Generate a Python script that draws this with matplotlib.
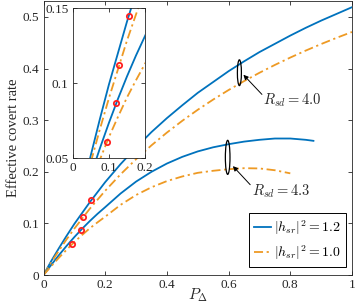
import matplotlib
matplotlib.use("Agg")
import matplotlib.pyplot as plt
from matplotlib.patches import Ellipse
from matplotlib.ticker import FormatStrFormatter

plt.rcParams['font.family'] = ['Liberation Serif', 'DejaVu Serif']
plt.rcParams['mathtext.fontset'] = 'cm'

# ---- data ----
x_main = [0, 0.025, 0.05, 0.075, 0.1, 0.15, 0.2, 0.25, 0.3, 0.35, 0.4, 0.45, 0.5,
          0.55, 0.6, 0.65, 0.7, 0.75, 0.8, 0.85, 0.9, 0.95, 1.0]
# R_sd = 4.0, |h_sr|^2 = 1.2
rsd40_h12 = [0, 0.027, 0.052, 0.076, 0.099, 0.141, 0.180, 0.215, 0.247, 0.277, 0.304,
             0.329, 0.353, 0.374, 0.395, 0.414, 0.432, 0.448, 0.464, 0.479, 0.493,
             0.506, 0.519]
# R_sd = 4.0, |h_sr|^2 = 1.0
rsd40_h10 = [0, 0.0243, 0.0473, 0.0692, 0.0899, 0.1284, 0.1633, 0.1952, 0.2244, 0.2513,
             0.2760, 0.2989, 0.3202, 0.3400, 0.3585, 0.3757, 0.3919, 0.4071, 0.4214,
             0.4349, 0.4476, 0.4596, 0.4710]

# R_sd = 4.3, |h_sr|^2 = 1.2
x_lb = [0, 0.025, 0.05, 0.075, 0.1, 0.125, 0.15, 0.175, 0.2, 0.25, 0.3, 0.35, 0.4,
        0.45, 0.5, 0.55, 0.6, 0.65, 0.7, 0.75, 0.8, 0.85, 0.875]
rsd43_h12 = [0, 0.0195, 0.0385, 0.0565, 0.0735, 0.0895, 0.1045, 0.1185, 0.1315, 0.158,
             0.181, 0.200, 0.216, 0.229, 0.2395, 0.2475, 0.2535, 0.2585, 0.262, 0.2645,
             0.2645, 0.262, 0.260]
# R_sd = 4.3, |h_sr|^2 = 1.0
x_lo = [0, 0.025, 0.05, 0.075, 0.1, 0.125, 0.15, 0.175, 0.2, 0.25, 0.3, 0.35, 0.4,
        0.45, 0.5, 0.55, 0.6, 0.65, 0.7, 0.75, 0.8]
rsd43_h10 = [0, 0.017, 0.0335, 0.049, 0.064, 0.0775, 0.0905, 0.102, 0.113, 0.136,
             0.155, 0.170, 0.182, 0.191, 0.198, 0.202, 0.205, 0.207, 0.2065, 0.203, 0.197]

# optimal points (red circles)
opt_x = [0.155, 0.129, 0.121, 0.094]
opt_y = [0.145, 0.112, 0.087, 0.061]

legend_labels = [r'$|h_{sr}|^2=1.2$', r'$|h_{sr}|^2=1.0$']
xticks_main = [0, 0.2, 0.4, 0.6, 0.8, 1]
yticks_main = [0, 0.1, 0.2, 0.3, 0.4, 0.5]
xticks_in = [0, 0.1, 0.2]
yticks_in = [0.05, 0.1, 0.15]

BLUE = '#0072BD'
ORANGE = '#EE9A24'
SPINE = '#262626'
DASH = (5, 2, 1.2, 2)
LW = 1.3
TICKFS = 9.5


def style(ax):
    for s in ax.spines.values():
        s.set_color(SPINE)
        s.set_linewidth(0.6)
    ax.tick_params(direction='in', length=3, width=0.6, colors=SPINE,
                   top=True, right=True, labelsize=TICKFS, pad=3)
    for t in ax.get_xticklabels() + ax.get_yticklabels():
        t.set_color('#262626')


def draw_curves(ax):
    l1, = ax.plot(x_main, rsd40_h12, color=BLUE, lw=LW)
    l2, = ax.plot(x_main, rsd40_h10, color=ORANGE, lw=LW, dashes=DASH)
    ax.plot(x_lb, rsd43_h12, color=BLUE, lw=LW)
    ax.plot(x_lo, rsd43_h10, color=ORANGE, lw=LW, dashes=DASH)
    ax.plot(opt_x, opt_y, 'o', ms=3.8, mfc='none', mec='#FF2020', mew=1.3, zorder=5)
    return l1, l2


fig = plt.figure(figsize=(3.6, 3.05), dpi=100)
ax = fig.add_axes([43.5 / 360, 30 / 305, 308.5 / 360, 274 / 305])
l1, l2 = draw_curves(ax)
ax.set_xlim(0, 1)
ax.set_ylim(0, 0.531)
ax.set_xticks(xticks_main)
ax.set_yticks(yticks_main)
ax.xaxis.set_major_formatter(FormatStrFormatter('%g'))
ax.yaxis.set_major_formatter(FormatStrFormatter('%g'))
style(ax)
ax.set_ylabel('Effective covert rate', fontsize=10.5, color='#262626', labelpad=2)
ax.xaxis.set_label_coords(0.47, -0.072)
ax.set_xlabel(r'$P_{\Delta}$', fontsize=11, color='#262626', va='center')

# ellipses and annotations
ax.add_patch(Ellipse((0.635, 0.392), 0.013, 0.05, fill=False, ec='black', lw=0.9, zorder=6))
ax.add_patch(Ellipse((0.597, 0.228), 0.015, 0.066, fill=False, ec='black', lw=0.9, zorder=6))
ax.annotate('', xy=(0.648, 0.388), xytext=(0.708, 0.350),
            arrowprops=dict(arrowstyle='-|>', lw=0.7, color='black',
                            mutation_scale=7, shrinkA=0, shrinkB=0))
ax.annotate('', xy=(0.614, 0.211), xytext=(0.670, 0.175),
            arrowprops=dict(arrowstyle='-|>', lw=0.7, color='black',
                            mutation_scale=7, shrinkA=0, shrinkB=0))
ax.text(0.712, 0.339, r'$R_{sd}=4.0$', fontsize=10.5, va='center', ha='left', color='#262626')
ax.text(0.675, 0.163, r'$R_{sd}=4.3$', fontsize=10.5, va='center', ha='left', color='#262626')

leg = ax.legend([l1, l2], legend_labels, loc='lower right',
                bbox_to_anchor=(0.98, 0.029), borderaxespad=0, fontsize=10,
                handlelength=1.2, handletextpad=0.25, fancybox=False,
                edgecolor='black', framealpha=1, borderpad=0.35, labelspacing=0.5)
leg.get_frame().set_linewidth(0.7)

# inset
axi = fig.add_axes([72.7 / 360, 1 - 158.3 / 305, 72.3 / 360, 150 / 305])
draw_curves(axi)
axi.set_xlim(0, 0.2)
axi.set_ylim(0.05, 0.15)
axi.set_xticks(xticks_in)
axi.set_yticks(yticks_in)
axi.xaxis.set_major_formatter(FormatStrFormatter('%g'))
axi.yaxis.set_major_formatter(FormatStrFormatter('%g'))
style(axi)

fig.savefig('out.png', dpi=100)
